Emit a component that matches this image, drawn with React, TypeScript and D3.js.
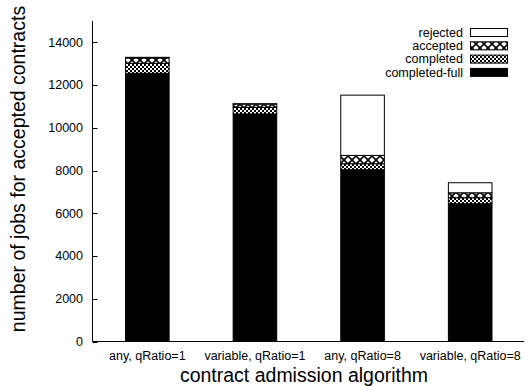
import { useEffect, useRef } from "react";
import * as d3 from "d3";

const categories = ["any, qRatio=1", "variable, qRatio=1", "any, qRatio=8", "variable, qRatio=8"];
const completedFull = [12550, 10650, 8040, 6450];
const completed = [470, 310, 280, 280];
const accepted = [250, 150, 390, 230];
const rejected = [30, 20, 2820, 470];
const seriesNames = ["completed-full", "completed", "accepted", "rejected"];
const yTicks = [0, 2000, 4000, 6000, 8000, 10000, 12000, 14000];

const W = 531;
const H = 386;
const font = "Liberation Sans, Arial, Helvetica, sans-serif";

const fills: Record<string, string> = {
  "completed-full": "#000",
  completed: "url(#pat-completed)",
  accepted: "url(#pat-accepted)",
  rejected: "#fff",
};

const App = () => {
  const svgRef = useRef<SVGSVGElement>(null);

  useEffect(() => {
    const svg = d3.select(svgRef.current);
    svg.selectAll("*").remove();

    const left = 92.5;
    const right = 524;
    const bottom = 341.5;
    const top = 21;

    // patterns
    const defs = svg.append("defs");
    const pc = defs
      .append("pattern")
      .attr("id", "pat-completed")
      .attr("patternUnits", "userSpaceOnUse")
      .attr("width", 4)
      .attr("height", 4);
    pc.append("rect").attr("width", 4).attr("height", 4).attr("fill", "#fff");
    pc.append("rect").attr("width", 2).attr("height", 2).attr("fill", "#000");
    pc.append("rect").attr("x", 2).attr("y", 2).attr("width", 2).attr("height", 2).attr("fill", "#000");

    const pa = defs
      .append("pattern")
      .attr("id", "pat-accepted")
      .attr("patternUnits", "userSpaceOnUse")
      .attr("width", 8)
      .attr("height", 8);
    pa.append("rect").attr("width", 8).attr("height", 8).attr("fill", "#fff");
    pa.append("path")
      .attr("d", "M0,0L8,8M8,0L0,8")
      .attr("stroke", "#000")
      .attr("stroke-width", 1.6);

    const x = d3.scaleBand().domain(categories).range([left + 1, right]).padding(0);
    const y = d3.scaleLinear().domain([0, 15000]).range([bottom, top]);
    const barW = x.bandwidth() * 0.405;

    const rows = categories.map((c, i) => ({
      cat: c,
      "completed-full": completedFull[i],
      completed: completed[i],
      accepted: accepted[i],
      rejected: rejected[i],
    }));
    const stacked = d3.stack<any>().keys(seriesNames)(rows);

    stacked.forEach((layer) => {
      svg
        .append("g")
        .selectAll("rect")
        .data(layer)
        .enter()
        .append("rect")
        .attr("x", (d: any) => x(d.data.cat)! + (x.bandwidth() - barW) / 2)
        .attr("y", (d) => y(d[1]))
        .attr("width", barW)
        .attr("height", (d) => y(d[0]) - y(d[1]))
        .attr("fill", fills[layer.key])
        .attr("stroke", "#000")
        .attr("stroke-width", 1);
    });

    // axes
    svg
      .append("line")
      .attr("x1", left)
      .attr("x2", left)
      .attr("y1", top)
      .attr("y2", bottom)
      .attr("stroke", "#000");
    svg
      .append("line")
      .attr("x1", left)
      .attr("x2", right)
      .attr("y1", bottom)
      .attr("y2", bottom)
      .attr("stroke", "#000");

    const yt = svg.append("g");
    yTicks.forEach((t) => {
      yt.append("line")
        .attr("x1", left)
        .attr("x2", left + 5)
        .attr("y1", Math.round(y(t)) + 0.5)
        .attr("y2", Math.round(y(t)) + 0.5)
        .attr("stroke", "#000");
      yt.append("text")
        .attr("x", 83)
        .attr("y", y(t))
        .attr("dy", "0.35em")
        .attr("text-anchor", "end")
        .style("font-family", font)
        .style("font-size", "12.5px")
        .text(t);
    });

    categories.forEach((c) => {
      svg
        .append("text")
        .attr("x", x(c)! + x.bandwidth() / 2)
        .attr("y", 360)
        .attr("text-anchor", "middle")
        .style("font-family", font)
        .style("font-size", "12.5px")
        .text(c);
    });

    svg
      .append("text")
      .attr("x", 304)
      .attr("y", 382)
      .attr("text-anchor", "middle")
      .style("font-family", font)
      .style("font-size", "19.5px")
      .text("contract admission algorithm");

    svg
      .append("text")
      .attr("transform", "translate(25,169) rotate(-90)")
      .attr("text-anchor", "middle")
      .style("font-family", font)
      .style("font-size", "19.5px")
      .text("number of jobs for accepted contracts");

    // legend
    const legendOrder = ["rejected", "accepted", "completed", "completed-full"];
    legendOrder.forEach((k, i) => {
      const cy = 32.5 + i * 13.3;
      svg
        .append("text")
        .attr("x", 463)
        .attr("y", cy)
        .attr("dy", "0.35em")
        .attr("text-anchor", "end")
        .style("font-family", font)
        .style("font-size", "12.5px")
        .text(k);
      svg
        .append("rect")
        .attr("x", 470.5)
        .attr("y", cy - 4)
        .attr("width", 37)
        .attr("height", 8)
        .attr("fill", fills[k])
        .attr("stroke", "#000");
    });
  }, []);

  return (
    <svg
      ref={svgRef}
      width={W}
      height={H}
      style={{ position: "absolute", left: 0, top: 0, background: "#fff" }}
    ></svg>
  );
};

export default App;
